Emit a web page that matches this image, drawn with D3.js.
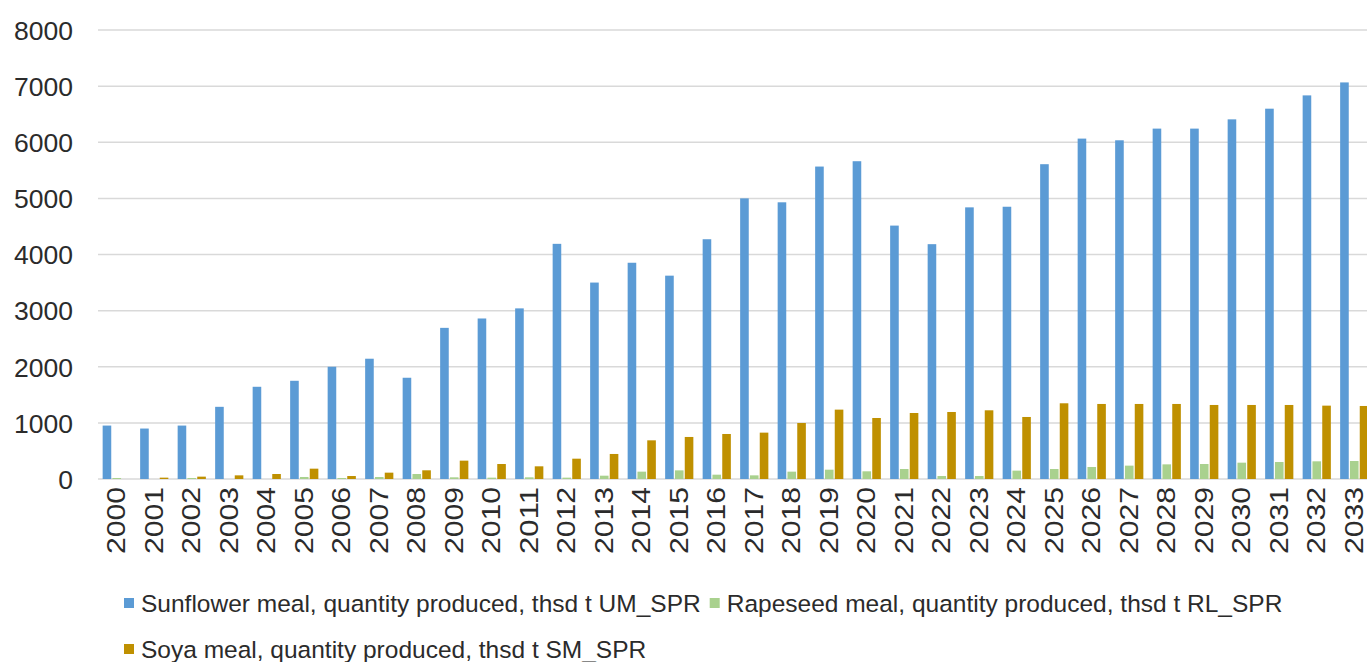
<!DOCTYPE html>
<html>
<head>
<meta charset="utf-8">
<script src="https://cdn.jsdelivr.net/npm/d3@7"></script>
<style>
  html, body { margin: 0; padding: 0; background: #fff; overflow: hidden; }
  svg { display: block; }
  text { font-family: "Liberation Sans", Arial, sans-serif; fill: #2b2b2b; }
</style>
</head>
<body>
<svg id="chart" width="1367" height="662"></svg>
<script>
const years = ["2000","2001","2002","2003","2004","2005","2006","2007","2008","2009","2010","2011","2012","2013","2014","2015","2016","2017","2018","2019","2020","2021","2022","2023","2024","2025","2026","2027","2028","2029","2030","2031","2032","2033"];
const sunflower = [952,899,952,1286,1643,1750,2000,2143,1804,2693,2860,3040,4190,3500,3853,3623,4272,5000,4930,5567,5662,4515,4184,4840,4851,5609,6065,6035,6243,6243,6408,6598,6835,7066];
const rapeseed = [18,0,18,0,0,36,18,35,89,30,24,30,24,59,131,154,77,65,131,166,137,178,53,53,149,178,214,238,261,267,291,303,315,321];
const soya = [0,24,42,65,89,184,53,113,155,327,267,226,362,446,689,749,802,826,998,1236,1087,1176,1194,1224,1105,1349,1337,1337,1337,1319,1319,1319,1307,1301];
const yTicks = [0,1000,2000,3000,4000,5000,6000,7000,8000];
const seriesNames = ["Sunflower meal, quantity produced, thsd t UM_SPR","Rapeseed meal, quantity produced, thsd t RL_SPR","Soya meal, quantity produced, thsd t SM_SPR"];
const seriesColors = ["#5b9bd5","#a9d18e","#bf9000"];
const seriesData = [sunflower, rapeseed, soya];

const svg = d3.select("#chart");
const plotLeft = 98, plotRight = 98 + 34 * 37.5, plotTop = 30, plotBottom = 479;

const x = d3.scaleBand().domain(years).range([plotLeft, plotRight]).paddingInner(0).paddingOuter(0);
const y = d3.scaleLinear().domain([0, 8000]).range([plotBottom, plotTop]);

// gridlines
svg.append("g").selectAll("line").data(yTicks).join("line")
  .attr("x1", plotLeft).attr("x2", 1367)
  .attr("y1", d => y(d)).attr("y2", d => y(d))
  .attr("stroke", "#d9d9d9").attr("stroke-width", 1.5);

// y axis labels
const yAxis = d3.axisLeft(y).tickValues(yTicks).tickSize(0).tickPadding(0).tickFormat(d3.format("d"));
const gy = svg.append("g").attr("transform", `translate(73,0)`).call(yAxis);
gy.select(".domain").remove();
gy.selectAll("text").attr("font-size", 26.5).attr("fill", "#2b2b2b").attr("dy", "0.35em");

// bars
const bw = 8.6, step = 9.8;
const groupW = bw + 2 * step;
seriesData.forEach((vals, si) => {
  svg.append("g").selectAll("rect").data(vals).join("rect")
    .attr("x", (d, i) => x(years[i]) + (x.bandwidth() - groupW) / 2 + si * step)
    .attr("width", bw)
    .attr("y", d => y(d))
    .attr("height", d => plotBottom - y(d))
    .attr("fill", seriesColors[si]);
});

// x axis labels
const xAxis = d3.axisBottom(x).tickSize(0).tickPadding(0);
const gx = svg.append("g").attr("transform", `translate(0,${plotBottom})`).call(xAxis);
gx.select(".domain").remove();
gx.selectAll("text")
  .attr("font-size", 25.5).attr("fill", "#2b2b2b")
  .attr("text-anchor", "end")
  .attr("transform", "rotate(-90)")
  .attr("x", -8).attr("y", -0.5).attr("dy", "0.35em")
  .attr("textLength", 67).attr("lengthAdjust", "spacingAndGlyphs");

// legend
const leg = svg.append("g");
function legendItem(px, cy, si) {
  leg.append("rect").attr("x", px).attr("y", cy - 5).attr("width", 10).attr("height", 10).attr("fill", seriesColors[si]);
  const t = leg.append("text").attr("x", px + 17).attr("y", cy).attr("dy", "0.35em")
    .attr("font-size", 24.5).attr("fill", "#2b2b2b").text(seriesNames[si]);
  return t.node().getComputedTextLength() + px + 17;
}
const end1 = legendItem(124, 603, 0);
legendItem(end1 + 9, 603, 1);
legendItem(124, 649, 2);
</script>
</body>
</html>
